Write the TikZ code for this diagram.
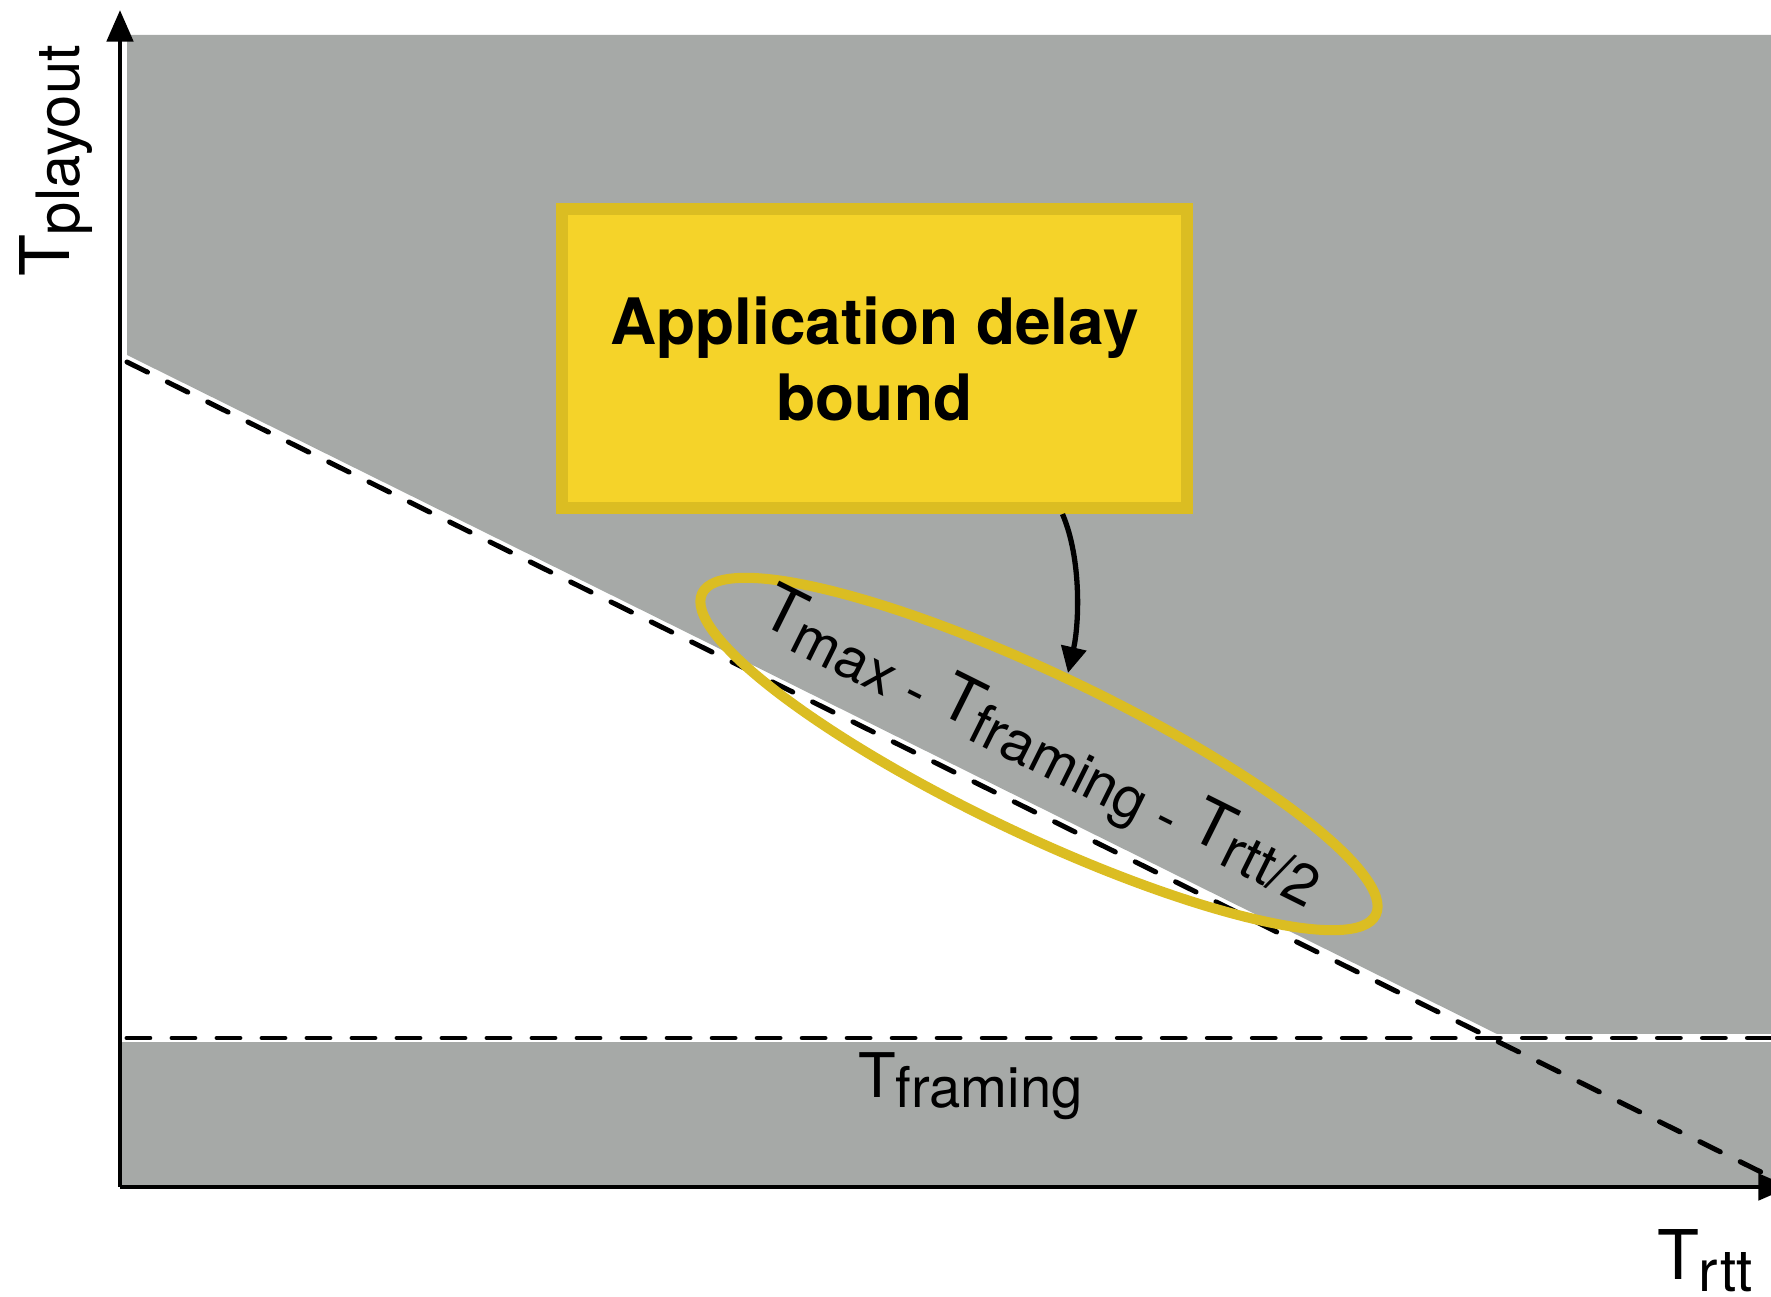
\documentclass[tikz,border=0pt]{standalone}
\usepackage{fontspec}
\setmainfont{TeX Gyre Heros}
\usetikzlibrary{arrows.meta,shapes.geometric,calc}
\definecolor{plotgrey}{RGB}{166,169,167}
\definecolor{boxfill}{RGB}{245,211,41}
\definecolor{boxedge}{RGB}{219,189,34}
\newcommand{\Tlab}[4]{{\fontsize{#1}{#1}\selectfont T}\raisebox{-#3}{\fontsize{#2}{#2}\selectfont #4}}
\begin{document}
\begin{tikzpicture}[x=0.01cm,y=-0.01cm,
  dashln/.style={line width=1.42pt, dash pattern=on 6.5pt off 6.3pt, line cap=round},
  axisln/.style={line width=1.42pt, -{Triangle[length=9pt,width=7.4pt]}},
  lbl/.style={inner sep=0pt, outer sep=0pt},
  boundbox/.style={draw=boxedge, fill=boxfill, line width=3.4pt,
     minimum width=6.25cm, minimum height=2.99cm, inner sep=0pt,
     align=center, font=\bfseries\fontsize{18.2}{21.6}\selectfont},
  ellring/.style={ellipse, draw=boxedge, line width=2.85pt, minimum width=7.46cm,
     minimum height=1.6cm, inner sep=0pt},
  pointer/.style={line width=1.5pt, -{Triangle[length=7.4pt,width=7.1pt]}}
]
\useasboundingbox (0,0) rectangle (1771,1297);
% grey regions
\fill[plotgrey] (127,35) -- (1771,35) -- (1771,1034) -- (1497,1034) -- (127,355) -- cycle;
\fill[plotgrey] (120,1042) rectangle (1771,1187);
% dashed lines
\coordinate (dstart) at (127,362);
\coordinate (dend) at (1767,1175);
\coordinate (hstart) at (127,1038);
\coordinate (hend) at (1775,1038);
\draw[dashln] (dstart) -- (dend);
\draw[dashln] (hstart) -- (hend);
% axes
\coordinate (O) at (120,1187);
\coordinate (ytop) at (120,10);
\coordinate (xend) at (1790,1187);
\draw[axisln] (O) -- (ytop);
\draw[axisln] (O) -- (xend);
% axis labels
\node[lbl, rotate=90, anchor=base west] (ylab) at (70,277) {\Tlab{19.5pt}{17pt}{2.8pt}{playout}};
\node[lbl, anchor=base west] (xlab) at (1657,1280) {\Tlab{19.5pt}{16.6pt}{3.2pt}{rtt}};
\node[lbl, anchor=base west] (flab) at (858,1097) {\Tlab{17.5pt}{16pt}{3.1pt}{framing}};
% box
\node[boundbox] (box) at (874.5,358.5) {Application delay\\bound};
% ellipse and label
\node[ellring, rotate=-25.5] (ell) at (1039,754) {};
\node[lbl, rotate=-26.5] (elab) at (1040,750) {\Tlab{18.3pt}{16.3pt}{3pt}{max - }\Tlab{18.3pt}{16.3pt}{3pt}{framing - }\Tlab{18.3pt}{16.3pt}{3pt}{rtt/2}};
% pointer arrow
\coordinate (arrS) at ($(box.south)+(188,0)$);
\coordinate (arrE) at (1068,673);
\draw[pointer] (arrS) .. controls (1082,560) and (1079,625) .. (arrE);
\end{tikzpicture}
\end{document}
